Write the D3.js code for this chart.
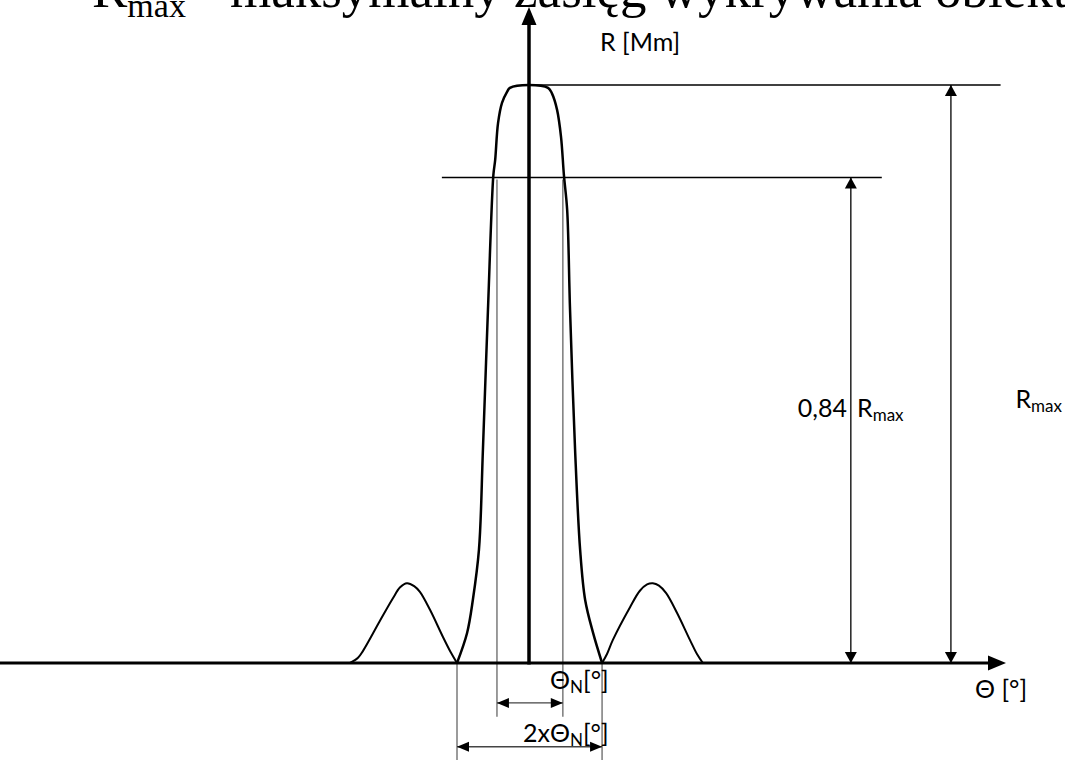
<!DOCTYPE html>
<html><head><meta charset="utf-8">
<script src="https://cdn.jsdelivr.net/npm/d3@7"></script>
<style>body{margin:0;background:#fff}svg{display:block}</style>
</head><body>
<script>
// ---- data (theta in degree units, R in % of Rmax) ----
const mainLobeTheta = [-2.00,-1.72,-1.56,-1.39,-1.28,-1.14,-0.99,-0.94,-0.86,-0.75,-0.61,-0.53,0,0.53,0.64,0.78,0.89,0.97,1.06,1.14,1.28,1.42,1.56,1.78,2.03];
const mainLobeR     = [0,5.2,10.9,19.6,36.9,61.1,84.4,87.0,93.4,96.9,98.8,99.5,100,99.5,98.5,95.7,91.0,84.4,78.4,61.1,36.9,19.6,10.9,5.2,0];
const leftSideTheta = [-4.97,-4.75,-4.61,-4.14,-3.78,-3.58,-3.39,-3.19,-3.03,-2.75,-2.39,-2.17,-2.00];
const leftSideR     = [0,0.9,2.1,7.3,11.2,13.1,13.8,13.3,12.3,9.2,4.5,1.8,0];
const rightSideTheta= [2.03,2.17,2.33,2.81,3.08,3.28,3.44,3.61,3.81,4.11,4.47,4.67,4.83];
const rightSideR    = [0,1.6,4.0,9.7,12.5,13.6,13.8,13.4,12.1,8.7,4.0,1.5,0];
const rMax = 100;
const rLevel = 84;             // 0,84 Rmax
const thetaN = [-0.89, 0.94];  // half-power width limits
const thetaNull = [-2.0, 2.03];
const axisThetaExtent = [-14.7, 13.25];
const axisRTop = 113.5;
const rmaxLineTheta = [0, 13.1];
const rLevelLineTheta = [-2.42, 9.8];
const dimRLevelTheta = 8.94;
const dimRmaxTheta = 11.72;
const thetaNExtR = -9.3, thetaNArrowR = -6.9;
const nullExtR = -17, nullArrowR = -14.5;
const titleText = ["R", "max", "–", "maksymalny zasięg wykrywania obiektu"];
const yLabel = "R [Mm]";
const xLabel = "Θ [°]";

// ---- scales ----
const W = 1065, H = 760;
const x = d3.scaleLinear().domain([-10, 10]).range([169, 889]);
const y = d3.scaleLinear().domain([0, 100]).range([663, 85]);

const svg = d3.select("body").append("svg").attr("width", W).attr("height", H);
const sans = "Lato, 'DejaVu Sans', sans-serif";

// title (cropped at top)
const t = svg.append("text").attr("font-family", "'Liberation Serif','Times New Roman',serif").attr("fill", "#000")
  .attr("x", 92).attr("y", 7).attr("font-size", 53);
t.append("tspan").text(titleText[0]);
t.append("tspan").attr("font-size", 34).attr("dy", 10).text(titleText[1]);
t.append("tspan").attr("x", 197).attr("dy", -10).text(titleText[2]);
t.append("tspan").attr("x", 230).text(titleText[3]);

// helper: filled arrow head
function head(tipX, tipY, dir, len, half, fill) {
  let p;
  if (dir === "up") p = [[tipX, tipY], [tipX - half, tipY + len], [tipX + half, tipY + len]];
  if (dir === "down") p = [[tipX, tipY], [tipX - half, tipY - len], [tipX + half, tipY - len]];
  if (dir === "left") p = [[tipX, tipY], [tipX + len, tipY - half], [tipX + len, tipY + half]];
  if (dir === "right") p = [[tipX, tipY], [tipX - len, tipY - half], [tipX - len, tipY + half]];
  svg.append("path").attr("d", "M" + p.map(d => d.join(",")).join("L") + "Z").attr("fill", fill || "#000");
}
function line(x1, y1, x2, y2, stroke, w) {
  svg.append("line").attr("x1", x1).attr("y1", y1).attr("x2", x2).attr("y2", y2)
    .attr("stroke", stroke).attr("stroke-width", w);
}

// reference horizontal lines
line(x(rmaxLineTheta[0]), y(rMax), x(rmaxLineTheta[1]), y(rMax), "#000", 1.3);
line(x(rLevelLineTheta[0]), y(rLevel), x(rLevelLineTheta[1]), y(rLevel), "#000", 1.3);

// extension lines
thetaN.forEach(v => line(x(v), y(rLevel) + 2, x(v), y(thetaNExtR), "#7a7a7a", 1.5));
thetaNull.forEach(v => line(x(v), y(0), x(v), y(nullExtR), "#7a7a7a", 1.5));

// horizontal dimension arrows
line(x(thetaN[0]), y(thetaNArrowR), x(thetaN[1]), y(thetaNArrowR), "#444", 1.4);
head(x(thetaN[0]), y(thetaNArrowR), "left", 12, 5);
head(x(thetaN[1]), y(thetaNArrowR), "right", 12, 5);
line(x(thetaNull[0]), y(nullArrowR), x(thetaNull[1]), y(nullArrowR), "#444", 1.4);
head(x(thetaNull[0]), y(nullArrowR), "left", 12, 5);
head(x(thetaNull[1]), y(nullArrowR), "right", 12, 5);

// vertical dimension arrows
line(x(dimRLevelTheta), y(rLevel), x(dimRLevelTheta), y(0), "#000", 1.3);
head(x(dimRLevelTheta), y(rLevel), "up", 11, 6);
head(x(dimRLevelTheta), y(0), "down", 11, 6);
line(x(dimRmaxTheta), y(rMax), x(dimRmaxTheta), y(0), "#000", 1.3);
head(x(dimRmaxTheta), y(rMax), "up", 11, 6);
head(x(dimRmaxTheta), y(0), "down", 11, 6);

// axes
const xa0 = x(axisThetaExtent[0]), xa1 = x(axisThetaExtent[1]);
line(xa0, y(0), xa1 - 14, y(0), "#000", 3);
head(xa1, y(0), "right", 18, 7.5);
line(x(0), y(0) + 1.5, x(0), y(axisRTop) + 14, "#000", 3.5);
head(x(0), y(axisRTop), "up", 18, 7.5);

// lobes
const gen = d3.line().x(d => x(d[0])).y(d => y(d[1])).curve(d3.curveCatmullRom.alpha(0.5));
const mainPts = mainLobeTheta.map((v, i) => [v, mainLobeR[i]]);
const leftPts = leftSideTheta.map((v, i) => [v, leftSideR[i]]);
const rightPts = rightSideTheta.map((v, i) => [v, rightSideR[i]]);
svg.append("path").attr("d", gen(mainPts)).attr("fill", "none").attr("stroke", "#000").attr("stroke-width", 2.5);
[leftPts, rightPts].forEach(p => svg.append("path").attr("d", gen(p)).attr("fill", "none").attr("stroke", "#000").attr("stroke-width", 2));

// labels
function label(xp, yp, parts, anchor) {
  const tx = svg.append("text").attr("x", xp).attr("y", yp).attr("font-family", sans).attr("font-size", 25)
    .attr("fill", "#000").attr("text-anchor", anchor || "start");
  parts.forEach(pt => {
    const s = tx.append("tspan").text(pt[0]);
    if (pt[1] === "sub") s.attr("font-size", 17).attr("baseline-shift", "-4");
  });
}
label(600, 51, [[yLabel]]);
label(975, 698, [[xLabel]]);
label(550, 689, [["Θ"], ["N", "sub"], ["[°]"]]);
label(523, 742, [["2xΘ"], ["N", "sub"], ["[°]"]]);
label(847, 417, [["0,84"]], "end");
label(857, 417, [["R"], ["max", "sub"]]);
label(1062, 408, [["R"], ["max", "sub"]], "end");
</script>
</body></html>
